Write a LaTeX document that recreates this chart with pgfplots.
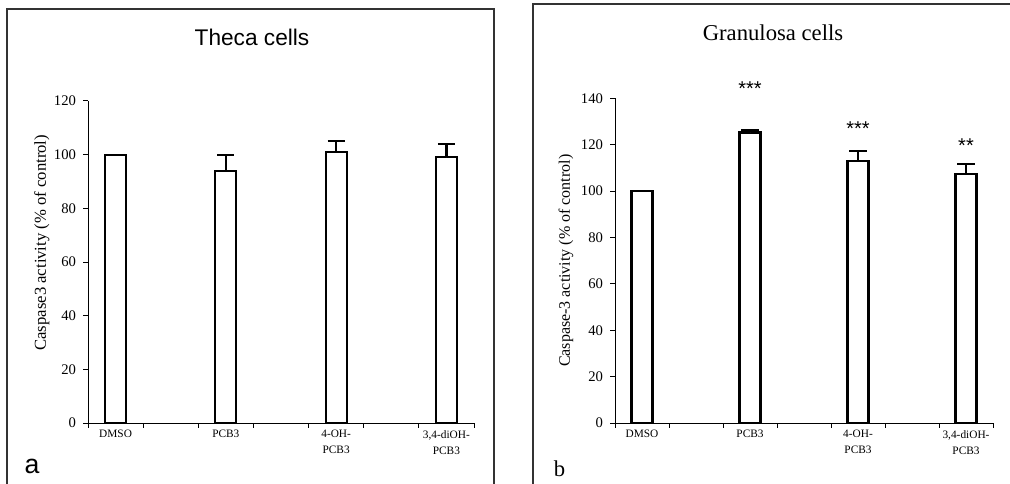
\documentclass[border=0pt]{standalone}
\usepackage{pgfplots}
\pgfplotsset{compat=1.18}
\usepackage{fontspec}
\setmainfont{Liberation Serif}
\newfontfamily\arial{Liberation Sans}
\begin{document}
\begin{tikzpicture}
\path[use as bounding box] (0,0) rectangle (757.5pt,362.25pt);
% panel frames
\draw[line width=1pt, black!80] (5.25pt,-2pt) -- (5.25pt,355.5pt) -- (370.5pt,355.5pt) -- (370.5pt,-2pt);
\draw[line width=1pt, black!80] (399.75pt,-2pt) -- (399.75pt,359.25pt) -- (760pt,359.25pt);
\node[font=\arial\fontsize{17}{20}\selectfont] at (189pt,334.5pt) {Theca cells};
\node[font=\fontsize{17}{20}\selectfont] at (579.75pt,337.5pt) {Granulosa cells};
\node[font=\arial\fontsize{20}{24}\selectfont, anchor=base] at (24pt,7pt) {a};
\node[font=\fontsize{17}{20}\selectfont, anchor=base] at (419.6pt,5.25pt) {b};

\pgfplotsset{
  panel/.style={
    scale only axis,
    axis x line=bottom, axis y line=left,
    axis line style={-, line width=0.75pt},
    xmin=-0.25, xmax=3.25, ymin=0,
    xtick={-0.25,0.25,...,3.25}, xticklabels={},
    extra x ticks={0,1,2,3},
    extra x tick labels={DMSO,PCB3,{4-OH-\\PCB3},{3,4-diOH-\\PCB3}},
    extra x tick style={major tick length=0pt, tick label style={align=center, font=\fontsize{8.5}{12}\selectfont, yshift=-2pt}},
    tick align=outside, major tick length=3.5pt,
    tick style={line width=0.75pt, black},
    ytick distance=20,
    /pgf/number format/assume math mode=true,
    yticklabel style={font=\fontsize{11}{12}\selectfont, xshift=-2pt},
    clip=false,
  },
  bars/.style={
    ybar, bar width=15.75pt, draw=black, fill=white, line width=1.7pt,
    error bars/.cd, y dir=plus, y explicit,
    error bar style={line width=1.7pt},
    error mark options={rotate=90, mark size=6.4pt, line width=1.7pt},
  }
}

\begin{axis}[panel,
  at={(66pt,45pt)}, anchor=south west,
  width=289.5pt, height=241.5pt,
  ymax=120,
  ylabel={Caspase3 activity (\% of control)},
  ylabel style={at={(axis description cs:-0.12,0.56)}, anchor=center, font=\fontsize{12.5}{14}\selectfont},
]
\addplot[bars] coordinates {
  (0,100) +- (0,0)
  (1,94) +- (0,6)
  (2,101.1) +- (0,4.1)
  (3,99) +- (0,4.9)
};
\end{axis}

\begin{axis}[panel,
  at={(461.25pt,45pt)}, anchor=south west,
  width=283.5pt, height=243.5pt,
  ymax=140,
  ylabel={Caspase-3 activity (\% of control)},
  ylabel style={at={(axis description cs:-0.13,0.5)}, anchor=center, font=\fontsize{12}{14}\selectfont},
]
\addplot[bars] coordinates {
  (0,100) +- (0,0)
  (1,125.3) +- (0,1)
  (2,113.1) +- (0,4.3)
  (3,107.4) +- (0,4.2)
};
\addplot[only marks, mark=*, mark size=0pt, mark options={draw=none, fill=none, opacity=0},
  nodes near coords, point meta=explicit symbolic,
  every node near coord/.append style={anchor=center, opacity=1, font=\arial\fontsize{15}{15}\selectfont}]
  coordinates {
  (1,144) [***]
  (2,127) [***]
  (3,119.6) [**]
};
\end{axis}
\end{tikzpicture}
\end{document}
